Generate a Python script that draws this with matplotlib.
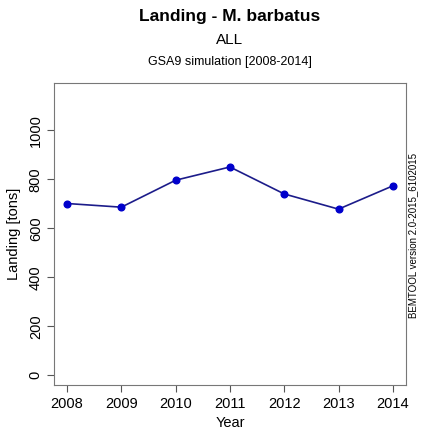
import matplotlib.pyplot as plt

plt.rcParams['font.family'] = ['Liberation Sans', 'DejaVu Sans']

years = [2008, 2009, 2010, 2011, 2012, 2013, 2014]
landing = [701, 686, 796, 850, 740, 678, 773]
yticks = [0, 200, 400, 600, 800, 1000]

fig = plt.figure(figsize=(4.25, 4.34), dpi=100)
ax = fig.add_axes([0.127, 0.112, 0.828, 0.697])

ax.plot(years, landing, color='#1c1c8a', lw=1.2, zorder=2)
ax.plot(years, landing, 'o', color='#0000cc', ms=4.8, zorder=3)

ax.set_xlim(2007.76, 2014.24)
ax.set_ylim(-41, 1193)
ax.set_xticks(years)
ax.set_yticks(yticks)
ax.tick_params(axis='both', direction='out', length=5, width=0.8,
               color='#555555', labelsize=10.5, pad=3)
ax.tick_params(axis='y', labelrotation=90)
for lab in ax.get_yticklabels():
    lab.set_va('center')
for sp in ax.spines.values():
    sp.set_color('#777777')
    sp.set_linewidth(0.8)

ax.set_xlabel('Year', fontsize=10.5, labelpad=4)
ax.set_ylabel('Landing [tons]', fontsize=10.5, labelpad=6)

fig.text(0.541, 0.961, 'Landing - M. barbatus', ha='center', va='center',
         fontsize=12.5, fontweight='bold')
fig.text(0.541, 0.908, 'ALL', ha='center', va='center', fontsize=11)
fig.text(0.541, 0.857, 'GSA9 simulation [2008-2014]', ha='center',
         va='center', fontsize=9)
fig.text(0.972, 0.458, 'BEMTOOL version 2.0-2015_6102015', ha='center',
         va='center', rotation=90, fontsize=7)

fig.savefig('out.png', dpi=100)
